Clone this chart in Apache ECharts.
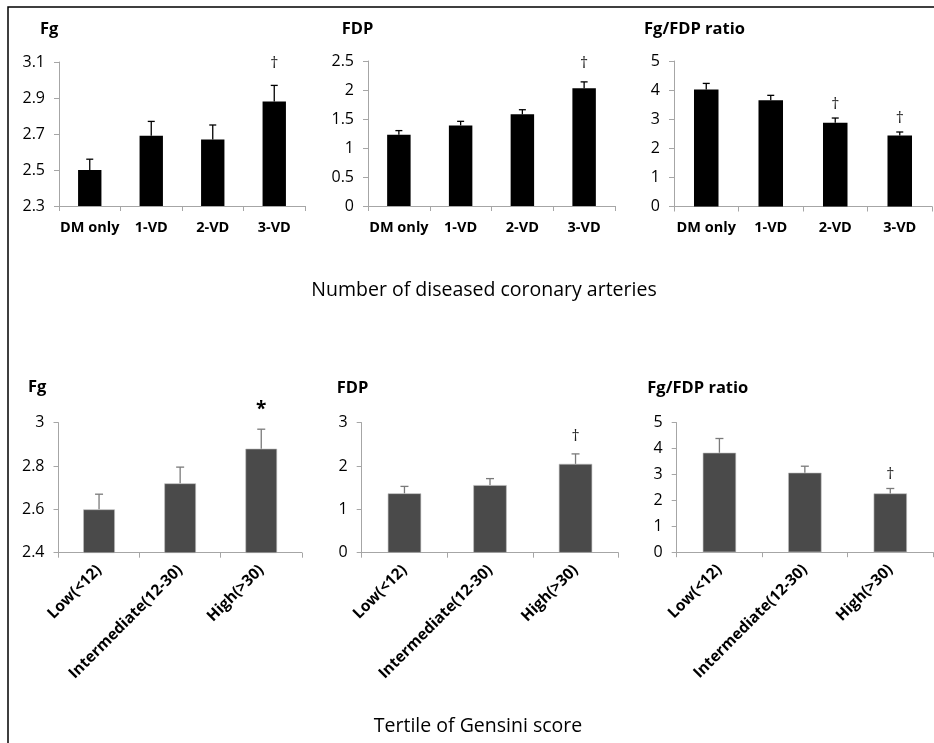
<!DOCTYPE html>
<html>
<head>
<meta charset="utf-8">
<script src="https://cdn.jsdelivr.net/npm/echarts@6/dist/echarts.min.js"></script>
<style>
html,body{margin:0;padding:0;background:#fff;}
#chart{width:934px;height:743px;}
</style>
</head>
<body>
<div id="chart"></div>
<script>
// ---- data ----
var topCats = ['DM only', '1-VD', '2-VD', '3-VD'];
var botCats = ['Low(<12)', 'Intermediate(12-30)', 'High(>30)'];

var fgTop = [2.50, 2.69, 2.67, 2.88];
var fgTopErr = [0.06, 0.08, 0.08, 0.09];
var fgTopMarks = ['', '', '', '†'];

var fdpTop = [1.23, 1.39, 1.58, 2.03];
var fdpTopErr = [0.07, 0.07, 0.08, 0.11];
var fdpTopMarks = ['', '', '', '†'];

var ratioTop = [4.02, 3.65, 2.88, 2.44];
var ratioTopErr = [0.21, 0.17, 0.16, 0.12];
var ratioTopMarks = ['', '', '†', '†'];

var fgBot = [2.60, 2.72, 2.88];
var fgBotErr = [0.07, 0.075, 0.09];
var fgBotMarks = ['', '', '*'];

var fdpBot = [1.37, 1.56, 2.05];
var fdpBotErr = [0.16, 0.15, 0.23];
var fdpBotMarks = ['', '', '†'];

var ratioBot = [3.84, 3.07, 2.27];
var ratioBotErr = [0.55, 0.25, 0.19];
var ratioBotMarks = ['', '', '†'];

var panelTitles = ['Fg', 'FDP', 'Fg/FDP ratio', 'Fg', 'FDP', 'Fg/FDP ratio'];
var topAxisText = 'Number of diseased coronary arteries';
var botAxisText = 'Tertile of Gensini score';

// y-axis scales [min, max, interval]
var yScales = [[2.3, 3.1, 0.2], [0, 2.5, 0.5], [0, 5, 1], [2.4, 3, 0.2], [0, 3, 1], [0, 5, 1]];

// ---- layout ----
var FONT = '"Open Sans", "DejaVu Sans", sans-serif';
var grids = [
  {left: 59, top: 62, width: 246, height: 144},
  {left: 368, top: 61, width: 247, height: 145},
  {left: 674, top: 61, width: 258, height: 145.5},
  {left: 58.5, top: 422.7, width: 243.3, height: 130},
  {left: 361.7, top: 422.7, width: 256.6, height: 130},
  {left: 676.7, top: 422.7, width: 256.3, height: 129.5}
];
var titlePos = [[40, 29.5], [341.7, 29], [644, 29], [28, 387], [336.7, 388.5], [647.3, 388]];
var markGap = [22, 18, 14, 20, 17, 14];

var panels = [
  {cats: topCats, vals: fgTop, errs: fgTopErr, marks: fgTopMarks},
  {cats: topCats, vals: fdpTop, errs: fdpTopErr, marks: fdpTopMarks},
  {cats: topCats, vals: ratioTop, errs: ratioTopErr, marks: ratioTopMarks},
  {cats: botCats, vals: fgBot, errs: fgBotErr, marks: fgBotMarks},
  {cats: botCats, vals: fdpBot, errs: fdpBotErr, marks: fdpBotMarks},
  {cats: botCats, vals: ratioBot, errs: ratioBotErr, marks: ratioBotMarks}
];

var axisGray = '#a6a6a6';
var xAxes = [], yAxes = [], series = [];
panels.forEach(function (p, k) {
  var isTop = k < 3;
  xAxes.push({
    type: 'category', gridIndex: k, data: p.cats, boundaryGap: true,
    axisLine: {show: true, lineStyle: {color: axisGray, width: 1}},
    axisTick: {show: true, length: 5, lineStyle: {color: axisGray}},
    axisLabel: {
      interval: 0, color: '#000', fontFamily: FONT, fontWeight: 'bold', fontSize: isTop ? 14.5 : 15.5,
      margin: isTop ? 14 : 15, rotate: isTop ? 0 : 45
    },
    splitLine: {show: false}
  });
  var s = yScales[k];
  yAxes.push({
    type: 'value', gridIndex: k, min: s[0], max: s[1], interval: s[2],
    axisLine: {show: true, lineStyle: {color: axisGray, width: 1}},
    axisTick: {show: true, length: 5, lineStyle: {color: axisGray}},
    axisLabel: {color: '#000', fontFamily: FONT, fontSize: 16, margin: 14,
      formatter: function (v) { return String(+v.toFixed(2)); }},
    splitLine: {show: false}
  });
  series.push({
    type: 'bar', xAxisIndex: k, yAxisIndex: k, data: p.vals,
    barWidth: isTop ? '38%' : '39%',
    itemStyle: {color: isTop ? '#000' : '#4a4a4a', borderColor: isTop ? '#000' : '#bdbdbd', borderWidth: isTop ? 0 : 0.6},
    silent: true, animation: false
  });
  var errData = p.vals.map(function (v, i) { return [i, v, p.errs[i], p.marks[i]]; });
  var errColor = isTop ? '#000' : '#7a7a7a';
  var gap = markGap[k];
  series.push({
    type: 'custom', xAxisIndex: k, yAxisIndex: k, data: errData, clip: false, z: 5,
    animation: false, silent: true,
    renderItem: function (params, api) {
      var x = api.value(0), y = api.value(1), e = api.value(2);
      var mark = errData[params.dataIndex][3];
      var p0 = api.coord([x, y]);
      var p1 = api.coord([x, y + e]);
      var cw = isTop ? 3.5 : 4;
      var children = [
        {type: 'line', shape: {x1: p0[0], y1: p0[1], x2: p1[0], y2: p1[1]}, style: {stroke: errColor, lineWidth: 1.3}},
        {type: 'line', shape: {x1: p1[0] - cw, y1: p1[1], x2: p1[0] + cw, y2: p1[1]}, style: {stroke: errColor, lineWidth: 1.3}}
      ];
      if (mark) {
        var isStar = mark === '*';
        children.push({type: 'text', style: {
          text: mark, x: p1[0], y: p1[1] - gap,
          align: 'center', verticalAlign: 'middle',
          fill: isStar ? '#000' : '#222',
          font: (isStar ? 'bold 19px ' : '16px ') + FONT
        }});
      }
      return {type: 'group', children: children};
    }
  });
});

var graphics = [
  {type: 'rect', shape: {x: 8, y: 7, width: 1000, height: 1000}, style: {fill: 'none', stroke: '#000', lineWidth: 1.5}, z: 100}
];
panelTitles.forEach(function (t, k) {
  graphics.push({type: 'text', x: titlePos[k][0], y: titlePos[k][1], style: {
    text: t, font: 'bold 16.5px ' + FONT, fill: '#000', align: 'left', verticalAlign: 'middle'}});
});
graphics.push({type: 'text', x: 484, y: 290, style: {text: topAxisText, font: '19.5px ' + FONT, fill: '#000', align: 'center', verticalAlign: 'middle'}});
graphics.push({type: 'text', x: 478, y: 726, style: {text: botAxisText, font: '19.5px ' + FONT, fill: '#000', align: 'center', verticalAlign: 'middle'}});

var chart = echarts.init(document.getElementById('chart'), null, {renderer: 'canvas'});
chart.setOption({
  animation: false,
  backgroundColor: '#fff',
  grid: grids,
  xAxis: xAxes,
  yAxis: yAxes,
  series: series,
  graphic: graphics
});
</script>
</body>
</html>
